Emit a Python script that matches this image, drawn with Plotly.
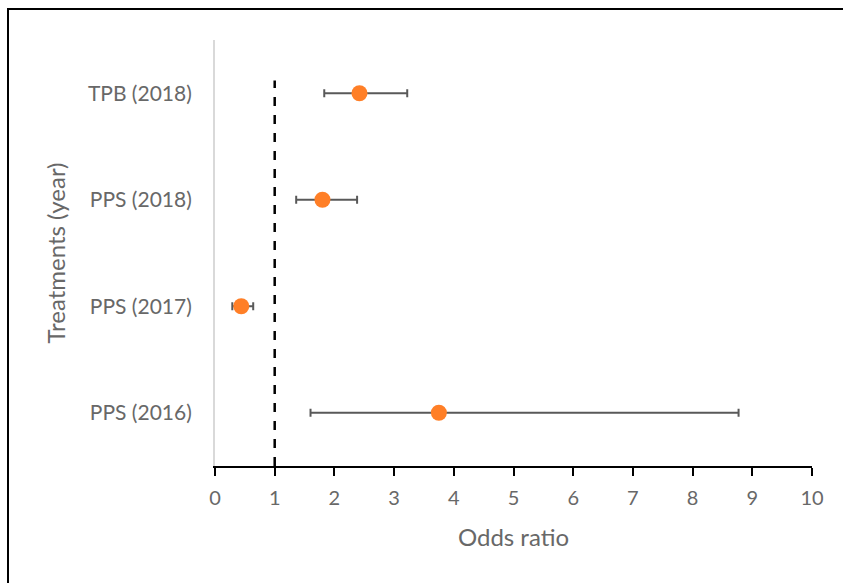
import plotly.graph_objects as go

# Odds ratios with 95% confidence limits per treatment/year
treatments = ["PPS (2016)", "PPS (2017)", "PPS (2018)", "TPB (2018)"]
odds_ratio = [3.75, 0.44, 1.80, 2.42]
ci_lower = [1.60, 0.29, 1.36, 1.83]
ci_upper = [8.77, 0.64, 2.38, 3.22]
x_ticks = list(range(0, 11))

positions = list(range(len(treatments)))
err_plus = [u - m for u, m in zip(ci_upper, odds_ratio)]
err_minus = [m - l for m, l in zip(odds_ratio, ci_lower)]

font_family = "Lato, Carlito, Calibri, sans-serif"
grey_text = "#686868"

fig = go.Figure()
fig.add_trace(go.Scatter(
    x=odds_ratio,
    y=positions,
    mode="markers",
    marker=dict(color="#FF7F27", size=16, line=dict(width=0)),
    error_x=dict(
        type="data",
        symmetric=False,
        array=err_plus,
        arrayminus=err_minus,
        color="#595959",
        thickness=2,
        width=4,
    ),
    showlegend=False,
    cliponaxis=False,
))

# Reference line at OR = 1
fig.add_shape(
    type="line", xref="x", yref="y",
    x0=1, x1=1, y0=-0.5, y1=3.12,
    line=dict(color="black", width=2.5, dash="dash"),
    layer="below",
)

# Outer frame around the chart
L, R, T, B = 215, 31, 40, 117
W, H = 843, 583
pw, ph = W - L - R, H - T - B
def px_x(p):
    return (p - L) / pw
def px_y(p):
    return (H - B - p) / ph
fig.add_shape(
    type="rect", xref="paper", yref="paper",
    x0=px_x(8), x1=px_x(860), y0=px_y(600), y1=px_y(9),
    line=dict(color="black", width=2),
    fillcolor="rgba(0,0,0,0)",
)

fig.update_layout(
    width=W, height=H,
    margin=dict(l=L, r=R, t=T, b=B),
    paper_bgcolor="white",
    plot_bgcolor="white",
    font=dict(family=font_family, color=grey_text, size=18),
    xaxis=dict(
        range=[0, 10],
        tickvals=x_ticks,
        ticktext=[str(v) for v in x_ticks],
        showgrid=False,
        zeroline=False,
        showline=True,
        linecolor="black",
        linewidth=2,
        ticks="outside",
        ticklen=8,
        tickwidth=2,
        tickcolor="black",
        ticklabelstandoff=5,
        tickfont=dict(size=20, color=grey_text),
        title=dict(text="Odds ratio", font=dict(size=24, color=grey_text), standoff=21),
    ),
    yaxis=dict(
        range=[-0.5, 3.5],
        tickvals=positions,
        ticktext=treatments,
        showgrid=False,
        zeroline=False,
        showline=True,
        linecolor="#d9d9d9",
        linewidth=2,
        ticks="",
        ticklabelstandoff=17,
        tickfont=dict(size=21, color=grey_text),
        title=dict(text="Treatments (year)", font=dict(size=24, color=grey_text), standoff=15),
    ),
)

fig.write_html("out.html")
